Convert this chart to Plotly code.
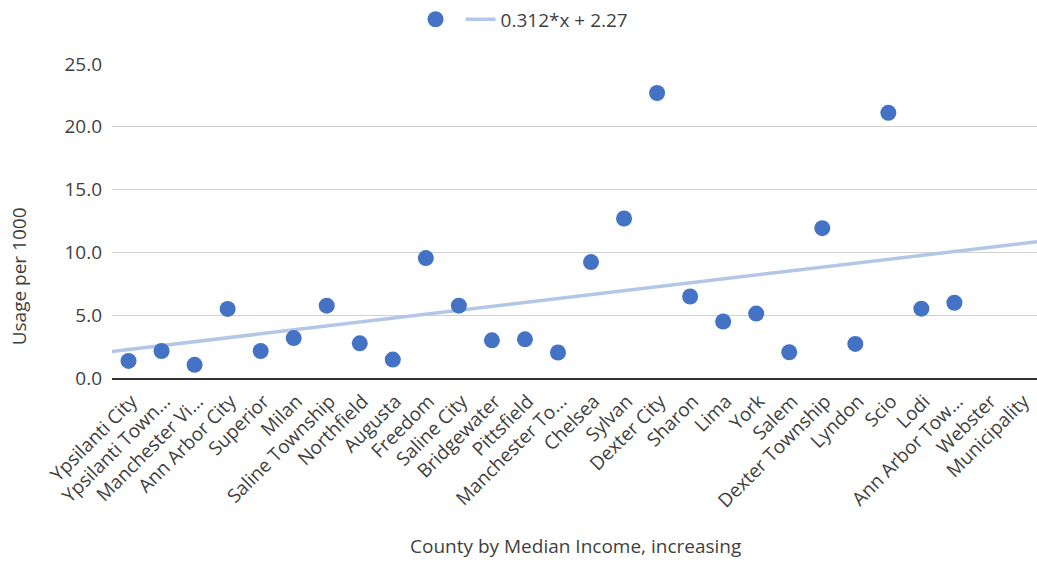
import plotly.graph_objects as go

# Municipalities ordered by median income (lowest to highest)
municipalities = [
    "Ypsilanti City", "Ypsilanti Town...", "Manchester Vi...", "Ann Arbor City",
    "Superior", "Milan", "Saline Township", "Northfield", "Augusta", "Freedom",
    "Saline City", "Bridgewater", "Pittsfield", "Manchester To...", "Chelsea",
    "Sylvan", "Dexter City", "Sharon", "Lima", "York", "Salem",
    "Dexter Township", "Lyndon", "Scio", "Lodi", "Ann Arbor Tow...",
    "Webster", "Municipality",
]

# Usage per 1000 residents (None = no value reported)
usage_per_1000 = [
    1.36, 2.15, 1.05, 5.50, 2.15, 3.18, 5.76, 2.76, 1.47, 9.55,
    5.76, 3.00, 3.08, 2.03, 9.23, 12.70, 22.69, 6.49, 4.50, 5.13,
    2.05, 11.93, 2.71, 21.11, 5.52, 5.99, None, None,
]

# Linear trendline coefficients
trend_slope = 0.312
trend_intercept = 2.27

y_ticks = [0, 5, 10, 15, 20, 25]

idx = list(range(len(municipalities)))
x_lo, x_hi = -0.5, len(municipalities) - 0.5

FONT = "Open Sans"
FS = 19
TXT = "#3f3f3f"
DOT = "#4472C4"
TREND = "#b4c6e7"

fig = go.Figure()

fig.add_trace(go.Scatter(
    x=[x_lo, x_hi],
    y=[trend_slope * x_lo + trend_intercept, trend_slope * x_hi + trend_intercept],
    mode="lines",
    line=dict(color=TREND, width=3.5),
    name=f"{trend_slope}*x + {trend_intercept}",
    legendrank=2,
    hoverinfo="skip",
))

fig.add_trace(go.Scatter(
    x=idx,
    y=usage_per_1000,
    mode="markers",
    marker=dict(color=DOT, size=16, line=dict(width=0)),
    name="",
    legendrank=1,
))

fig.update_layout(
    width=1037,
    height=563,
    margin=dict(l=112, r=0, t=62, b=185),
    paper_bgcolor="white",
    plot_bgcolor="white",
    font=dict(family=FONT, size=FS, color=TXT),
    showlegend=True,
    legend=dict(
        orientation="h",
        x=0.446, xanchor="center",
        y=1.142, yanchor="middle",
        font=dict(family=FONT, size=FS, color=TXT),
        itemwidth=30,
        bgcolor="rgba(0,0,0,0)",
    ),
    xaxis=dict(
        range=[x_lo, x_hi],
        tickmode="array",
        tickvals=idx,
        ticktext=municipalities,
        tickangle=-45,
        showgrid=False,
        zeroline=False,
        showline=True,
        linecolor="#333333",
        linewidth=1.5,
        ticks="",
        ticklabelstandoff=3,
        ticklabelshift=3,
        tickfont=dict(family=FONT, size=FS, color=TXT),
    ),
    yaxis=dict(
        range=[0, 25],
        tickmode="array",
        tickvals=y_ticks,
        tickformat=".1f",
        showgrid=True,
        gridcolor="#d0d0d0",
        gridwidth=1,
        zeroline=False,
        showline=False,
        ticks="",
        ticklabelstandoff=9,
        tickfont=dict(family=FONT, size=FS, color=TXT),
    ),
    annotations=[
        dict(
            text="County by Median Income, increasing",
            xref="paper", yref="paper",
            x=0.5008, y=-0.534,
            xanchor="center", yanchor="middle",
            showarrow=False,
            font=dict(family=FONT, size=FS, color=TXT),
        ),
        dict(
            text="Usage per 1000",
            xref="paper", yref="paper",
            x=-0.101, y=0.3225,
            xanchor="center", yanchor="middle",
            textangle=-90,
            showarrow=False,
            font=dict(family=FONT, size=FS, color=TXT),
        ),
    ],
)

fig.write_html("out.html")
